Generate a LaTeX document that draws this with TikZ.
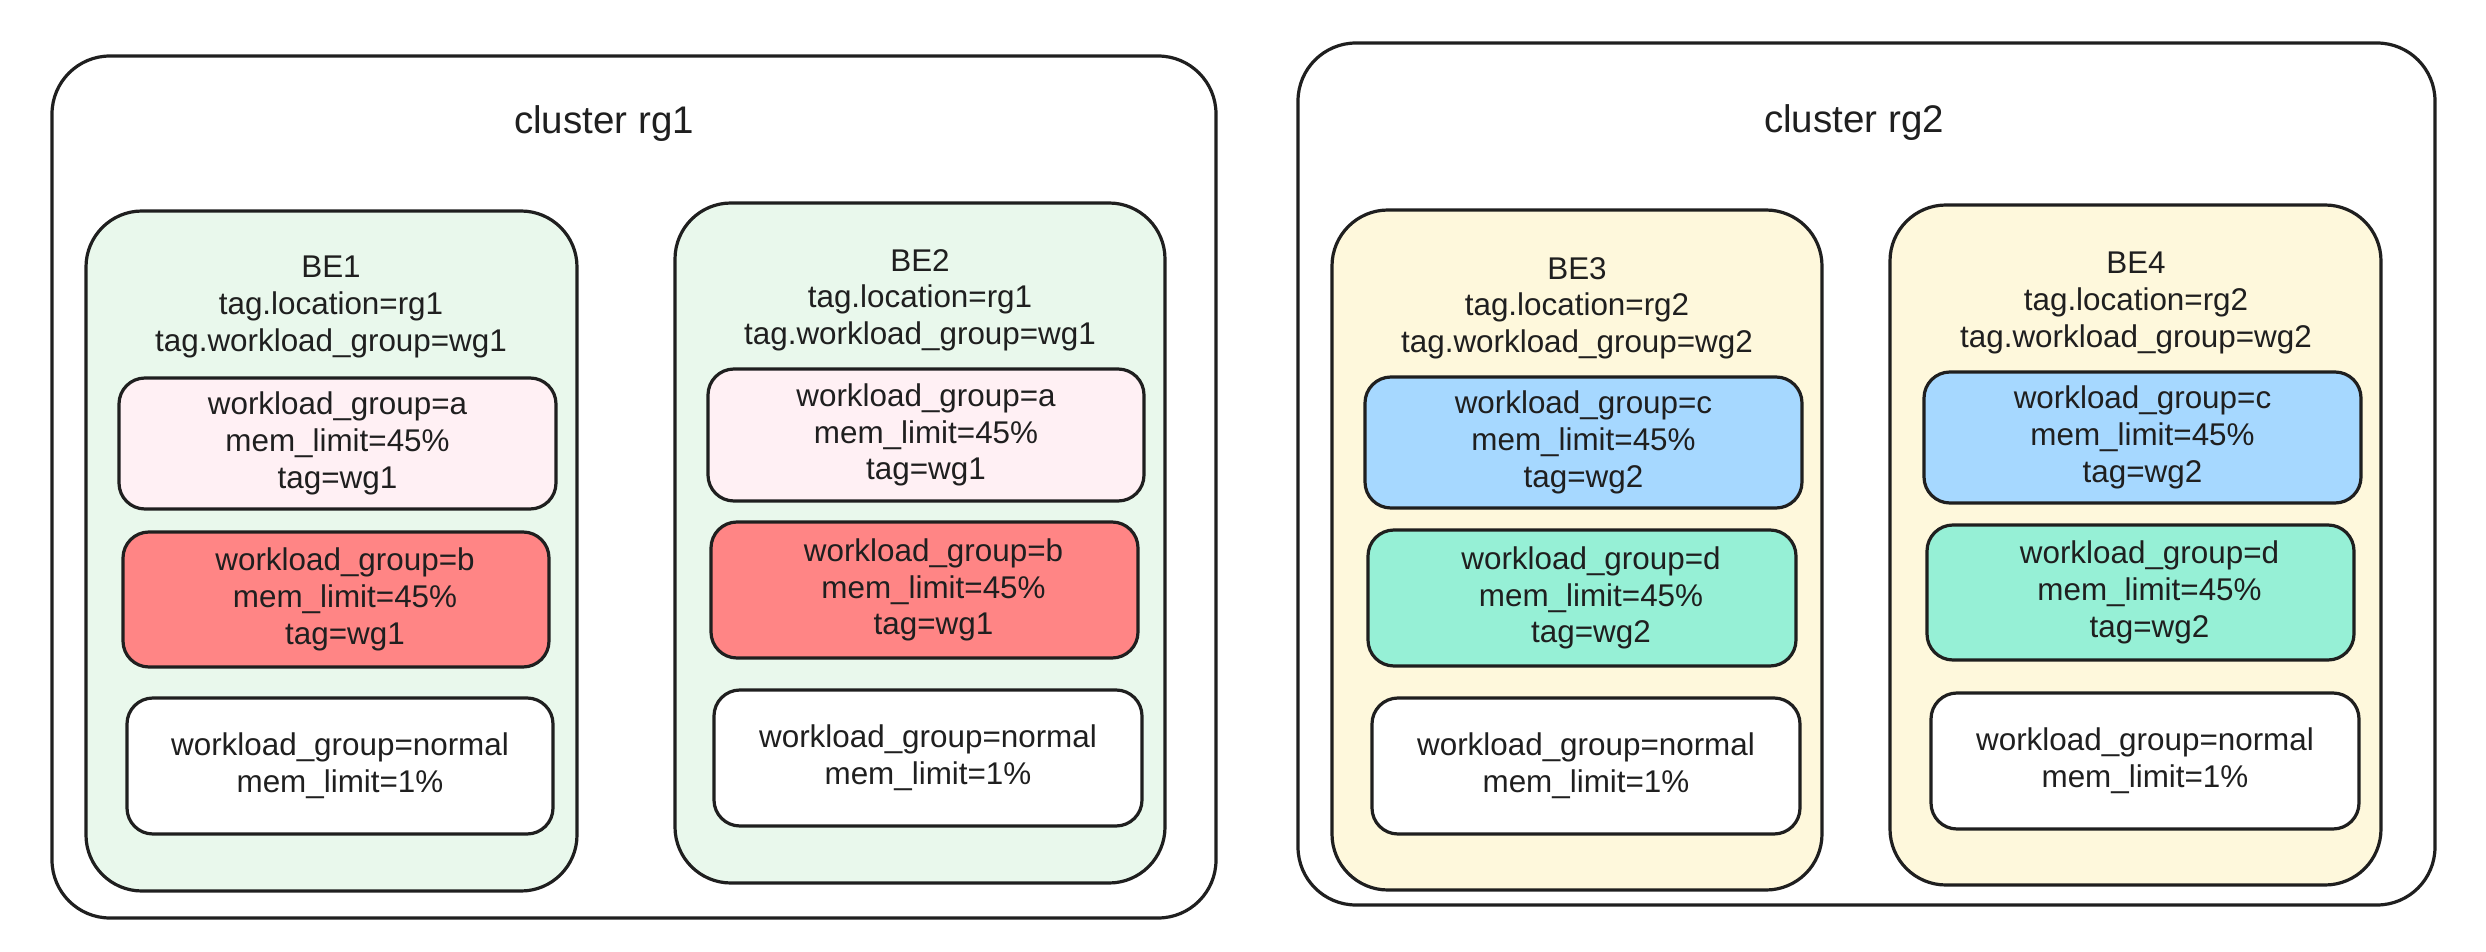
\documentclass[tikz,border=0pt]{standalone}
\usepackage{fontspec}
\setmainfont{Liberation Sans}
\usetikzlibrary{fit}
\definecolor{linec}{HTML}{1F1F1F}
\definecolor{begreen}{HTML}{E9F8EC}
\definecolor{beyellow}{HTML}{FEF8DC}
\definecolor{wgpink}{HTML}{FFF0F4}
\definecolor{wgred}{HTML}{FF8585}
\definecolor{wgblue}{HTML}{A6D8FF}
\definecolor{wgteal}{HTML}{96F0D6}
\begin{document}
\begin{tikzpicture}[x=0.5pt,y=-0.5pt,
  cluster/.style={draw=linec, line width=1.6pt, rounded corners=29pt, inner sep=0pt, fill=white},
  bebox/.style={draw=linec, line width=1.6pt, rounded corners=28pt, inner sep=0pt},
  wgbox/.style={draw=linec, line width=1.6pt, rounded corners=13pt, inner sep=0pt},
  txt/.style={font=\fontsize{15.7pt}{18.35pt}\selectfont, align=center, inner sep=0pt, text=linec},
  title/.style={font=\fontsize{19.25pt}{23pt}\selectfont, inner sep=0pt, text=linec}]
\useasboundingbox (0,0) rectangle (2486,952);

% clusters
\node[cluster, fit={(52,56) (1216,918)}] (rg1) {};
\node[cluster, fit={(1298,43) (2435,905)}] (rg2) {};
\node[title] (rg1t) at (604,124) {cluster rg1};
\node[title] (rg2t) at (1854,123) {cluster rg2};

% BE boxes
\node[bebox, fill=begreen, fit={(86,211) (577,891)}] (be1) {};
\node[bebox, fill=begreen, fit={(675,203) (1165,883)}] (be2) {};
\node[bebox, fill=beyellow, fit={(1332,210) (1822,890)}] (be3) {};
\node[bebox, fill=beyellow, fit={(1890,205) (2381,885)}] (be4) {};

\node[txt] (be1t) at (331,307) {BE1\\tag.location=rg1\\tag.workload\_group=wg1};
\node[txt] (be2t) at (920,300) {BE2\\tag.location=rg1\\tag.workload\_group=wg1};
\node[txt] (be3t) at (1577,308) {BE3\\tag.location=rg2\\tag.workload\_group=wg2};
\node[txt] (be4t) at (2136,303) {BE4\\tag.location=rg2\\tag.workload\_group=wg2};

% BE1 groups
\node[wgbox, fill=wgpink, fit={(119,378) (556,509)}] (a1) {};
\node[wgbox, fill=wgred, fit={(123,532) (549,667)}] (b1) {};
\node[wgbox, fill=white, fit={(127,698) (553,834)}] (n1) {};
\node[txt] (a1t) at (a1.center) {workload\_group=a\\mem\_limit=45\%\\tag=wg1};
\node[txt, xshift=4.5pt] (b1t) at (b1.center) {workload\_group=b\\mem\_limit=45\%\\tag=wg1};
\node[txt] (n1t) at (n1.center) {workload\_group=normal\\mem\_limit=1\%};

% BE2 groups
\node[wgbox, fill=wgpink, fit={(708,369) (1144,501)}] (a2) {};
\node[wgbox, fill=wgred, fit={(711,522) (1138,658)}] (b2) {};
\node[wgbox, fill=white, fit={(714,690) (1142,826)}] (n2) {};
\node[txt] (a2t) at (a2.center) {workload\_group=a\\mem\_limit=45\%\\tag=wg1};
\node[txt, xshift=4.5pt] (b2t) at (b2.center) {workload\_group=b\\mem\_limit=45\%\\tag=wg1};
\node[txt] (n2t) at (n2.center) {workload\_group=normal\\mem\_limit=1\%};

% BE3 groups
\node[wgbox, fill=wgblue, fit={(1365,377) (1802,508)}] (c3) {};
\node[wgbox, fill=wgteal, fit={(1368,530) (1796,666)}] (d3) {};
\node[wgbox, fill=white, fit={(1372,698) (1800,834)}] (n3) {};
\node[txt] (c3t) at (c3.center) {workload\_group=c\\mem\_limit=45\%\\tag=wg2};
\node[txt, xshift=4.5pt] (d3t) at (d3.center) {workload\_group=d\\mem\_limit=45\%\\tag=wg2};
\node[txt] (n3t) at (n3.center) {workload\_group=normal\\mem\_limit=1\%};

% BE4 groups
\node[wgbox, fill=wgblue, fit={(1924,372) (2361,503)}] (c4) {};
\node[wgbox, fill=wgteal, fit={(1927,525) (2354,660)}] (d4) {};
\node[wgbox, fill=white, fit={(1931,693) (2359,829)}] (n4) {};
\node[txt] (c4t) at (c4.center) {workload\_group=c\\mem\_limit=45\%\\tag=wg2};
\node[txt, xshift=4.5pt] (d4t) at (d4.center) {workload\_group=d\\mem\_limit=45\%\\tag=wg2};
\node[txt] (n4t) at (n4.center) {workload\_group=normal\\mem\_limit=1\%};
\end{tikzpicture}
\end{document}
